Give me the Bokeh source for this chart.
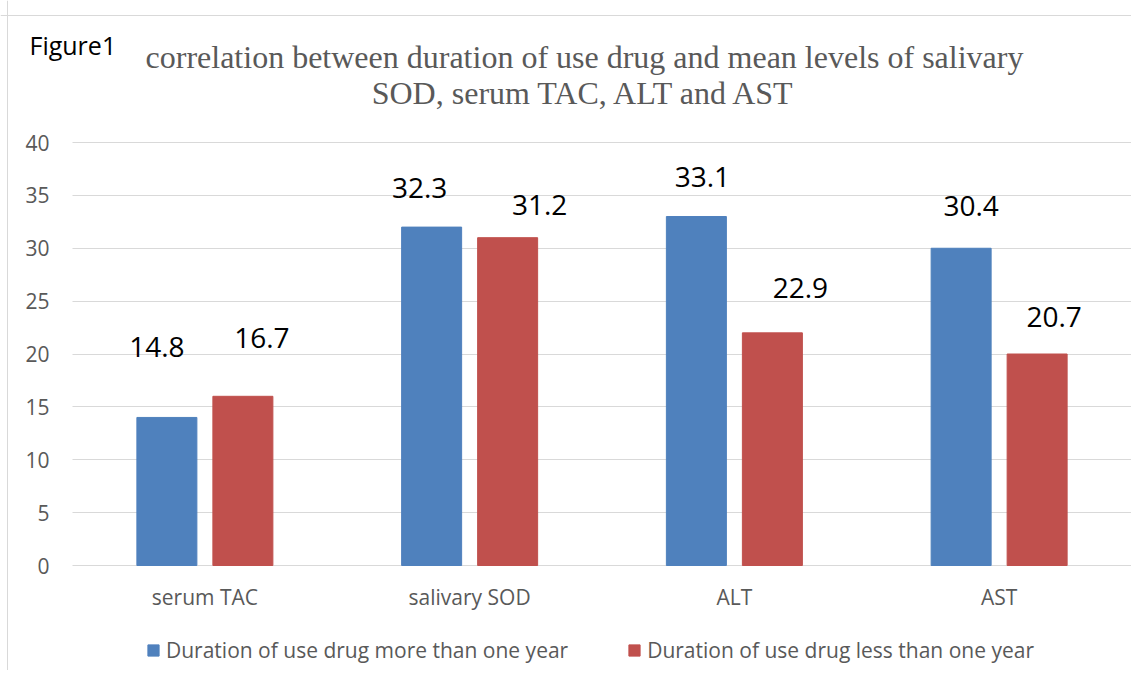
from bokeh.plotting import figure
from bokeh.models import ColumnDataSource, FixedTicker, Label, Legend, LegendItem, Span, Range1d
from bokeh.transform import dodge
from bokeh.core.properties import value
from bokeh.embed import file_html
from bokeh.resources import INLINE

# ---- data ----
categories = ["serum TAC", "salivary SOD", "ALT", "AST"]
more_than_one_year = [14, 32, 33, 30]
less_than_one_year = [16, 31, 22, 20]
more_labels = ["14.8", "32.3", "33.1", "30.4"]
less_labels = ["16.7", "31.2", "22.9", "20.7"]
series_names = ["Duration of use drug more than one year",
                "Duration of use drug less than one year"]
y_ticks = [0, 5, 10, 15, 20, 25, 30, 35, 40]
title_lines = ["correlation between duration of use drug and mean levels of salivary",
               "SOD, serum TAC, ALT and AST"]
figure_tag = "Figure1"

# ---- label placement (as placed in the original) ----
more_label_y = [20.7, 35.7, 36.7, 34.0]
less_label_y = [21.5, 34.1, 26.2, 23.5]
more_label_dx = [-10, -12, 6, 10]
less_label_dx = [19, 32, 28, 17]

BLUE = "#4f81bd"
RED = "#c0504d"
GREY = "#595959"
GRID = "#d9d9d9"
SANS = "Open Sans"
SERIF = "Liberation Serif"

# ---- geometry (pixels); the frame fills the canvas, the value scale sits inside it ----
W, H = 1131, 670
PLOT_LEFT = 72          # where the first category slot starts
ZERO_FROM_TOP = 565     # where value 0 lies
PX_PER_UNIT = 423 / 40
PX_PER_SLOT = (W - PLOT_LEFT) / len(categories)
x_start = -PLOT_LEFT / PX_PER_SLOT
y_end = ZERO_FROM_TOP / PX_PER_UNIT
y_start = -(H - ZERO_FROM_TOP) / PX_PER_UNIT

slot = [i + 0.5 for i in range(len(categories))]   # slot centres of the categories

src = ColumnDataSource(dict(
    cat=categories, slot=slot,
    more=more_than_one_year, less=less_than_one_year,
    more_lab=more_labels, less_lab=less_labels,
    more_ly=more_label_y, less_ly=less_label_y,
    more_dx=more_label_dx, less_dx=less_label_dx,
))

p = figure(x_range=Range1d(x_start, len(categories)), y_range=Range1d(y_start, y_end),
           width=W, height=H, output_backend="svg", toolbar_location=None,
           x_axis_location=None,
           min_border_left=0, min_border_right=0, min_border_top=0, min_border_bottom=0,
           outline_line_color=None, background_fill_color="white", border_fill_color="white")

BW = 60 / PX_PER_SLOT
OFF = 38 / PX_PER_SLOT
r1 = p.vbar(x=dodge("slot", -OFF), top="more", bottom=0, width=BW, source=src,
            fill_color=BLUE, line_color=BLUE)
r2 = p.vbar(x=dodge("slot", OFF), top="less", bottom=0, width=BW, source=src,
            fill_color=RED, line_color=RED)

p.text(x=dodge("slot", -OFF), y="more_ly", text="more_lab", x_offset="more_dx",
       source=src, text_align="center", text_baseline="middle",
       text_font=value(SANS), text_font_size="28px", text_color="black")
p.text(x=dodge("slot", OFF), y="less_ly", text="less_lab", x_offset="less_dx",
       source=src, text_align="center", text_baseline="middle",
       text_font=value(SANS), text_font_size="28px", text_color="black")

# category labels under the baseline
p.text(x="slot", y=0, text="cat", y_offset=31, source=src, text_align="center",
       text_baseline="middle", text_font=value(SANS), text_font_size="21px", text_color=GREY)

# chart-area border (top and left)
p.add_layout(Span(location=(ZERO_FROM_TOP - 15) / PX_PER_UNIT, dimension="width",
                  line_color=GRID, line_width=1))
p.add_layout(Span(location=x_start + 7 / PX_PER_SLOT, dimension="height",
                  line_color=GRID, line_width=1))

# y axis & grid
p.xgrid.grid_line_color = None
p.ygrid.grid_line_color = GRID
p.ygrid.ticker = FixedTicker(ticks=y_ticks)
p.ygrid.cross_bounds = (0, len(categories))
p.yaxis.ticker = FixedTicker(ticks=y_ticks)
ax = p.yaxis[0]
ax.axis_line_color = None
ax.major_tick_line_color = None
ax.minor_tick_line_color = None
ax.major_tick_in = 0
ax.major_tick_out = 0
ax.major_label_text_font = SANS
ax.major_label_text_font_size = "21px"
ax.major_label_text_color = GREY
ax.major_label_standoff = -49

# legend
legend = Legend(items=[LegendItem(label=series_names[0], renderers=[r1]),
                       LegendItem(label=series_names[1], renderers=[r2])],
                orientation="horizontal", location=(146, 6), padding=0, margin=0,
                border_line_color=None, background_fill_alpha=0,
                glyph_width=14, glyph_height=14, label_standoff=6, spacing=59,
                label_text_font=SANS, label_text_font_size="21px", label_text_color=GREY)
p.add_layout(legend)

# titles; screen units from the frame's bottom-left
p.add_layout(Label(x=584, y=H - 56, x_units="screen", y_units="screen", text=title_lines[0],
                   text_align="center", text_baseline="middle", text_font=SERIF,
                   text_font_size="32px", text_color=GREY))
p.add_layout(Label(x=584, y=H - 92, x_units="screen", y_units="screen", text=title_lines[1],
                   text_align="center", text_baseline="middle", text_font=SERIF,
                   text_font_size="32px", text_color=GREY))
p.add_layout(Label(x=29, y=H - 44, x_units="screen", y_units="screen", text=figure_tag,
                   text_align="left", text_baseline="middle", text_font=SANS,
                   text_font_size="25px", text_color="black"))

open("out.html", "w").write(file_html(p, INLINE))
